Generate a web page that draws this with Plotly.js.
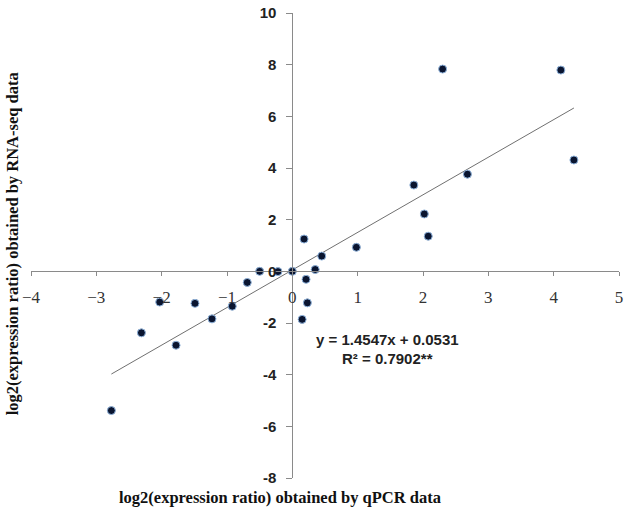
<!DOCTYPE html>
<html>
<head>
<meta charset="utf-8">
<script src="https://cdn.plot.ly/plotly-3.0.1.min.js"></script>
<style>html,body{margin:0;padding:0;background:#fff;}#chart{width:630px;height:513px;}</style>
</head>
<body>
<div id="chart"></div>
<script>
// qPCR log2 ratio (x) vs RNA-seq log2 ratio (y)
const qpcr = [2.30, 4.11, 4.31, 2.68, 1.86, 2.02, 2.08, 0.98, 0.18, 0.45,
              0.35, 0.21, 0.23, 0.15, -0.50, -0.22, 0.00, -0.69, -2.03, -1.49,
              -0.92, -1.23, -2.31, -1.78, -2.77];
const rnaseq = [7.83, 7.79, 4.31, 3.76, 3.34, 2.22, 1.36, 0.93, 1.25, 0.59,
                0.07, -0.31, -1.22, -1.86, 0.00, -0.01, 0.00, -0.43, -1.19, -1.24,
                -1.35, -1.84, -2.38, -2.86, -5.39];
const slope = 1.4547;
const intercept = 0.0531;
const equationText = "y = 1.4547x + 0.0531";
const r2Text = "R² = 0.7902**";
const xTickVals = [-4, -3, -2, -1, 0, 1, 2, 3, 4, 5];
const xTickText = ["\u22124", "\u22123", "\u22122", "\u22121", "0", "1", "2", "3", "4", "5"];
const yTickVals = [-8, -6, -4, -2, 0, 2, 4, 6, 8, 10];
const yTickText = ["-8", "-6", "-4", "-2", "0", "2", "4", "6", "8", "10"];
const xTitle = "log2(expression ratio) obtained by qPCR data";
const yTitle = "log2(expression ratio) obtained by RNA-seq data";

const xMin = Math.min(...qpcr), xMax = Math.max(...qpcr);
const fitX = [xMin, xMax];
const fitY = fitX.map(v => slope * v + intercept);

const sansB = 'Liberation Sans, Arial, sans-serif';
const traces = [
  {x: fitX, y: fitY, mode: 'lines', type: 'scatter',
   line: {color: '#707070', width: 1}, hoverinfo: 'skip'},
  {x: qpcr, y: rnaseq, mode: 'markers', type: 'scatter',
   marker: {size: 8, color: '#0a1530', line: {color: '#8fb3dc', width: 1}}}
];

const layout = {
  width: 630, height: 513,
  margin: {l: 31, r: 11, t: 13, b: 35},
  paper_bgcolor: '#fff', plot_bgcolor: '#fff',
  showlegend: false,
  xaxis: {
    range: [-4, 5], anchor: 'free', position: 8/18,
    showgrid: false, zeroline: false,
    showline: true, linecolor: '#8a8a8a', linewidth: 1,
    ticks: 'outside', ticklen: 4, tickcolor: '#8a8a8a', tickwidth: 1,
    tickvals: xTickVals, ticktext: xTickText,
    ticklabelstandoff: 6,
    tickfont: {family: 'Liberation Serif, serif', size: 17, color: '#333'}
  },
  yaxis: {
    range: [-8, 10], anchor: 'free', position: 4/9,
    showgrid: false, zeroline: false,
    showline: true, linecolor: '#8a8a8a', linewidth: 1,
    ticks: 'outside', ticklen: 6, tickcolor: '#8a8a8a', tickwidth: 1,
    tickvals: yTickVals, ticktext: yTickText.map(t => '<b>' + t + '</b>'),
    ticklabelstandoff: 7,
    tickfont: {family: sansB, size: 15, color: '#222'}
  },
  annotations: [
    {text: '<b>' + equationText + '</b>', xref: 'x', yref: 'y', x: 1.45, y: -2.62, showarrow: false,
     xanchor: 'center', yanchor: 'middle',
     font: {family: sansB, size: 15, color: '#222'}},
    {text: '<b>' + r2Text + '</b>', xref: 'x', yref: 'y', x: 1.45, y: -3.36, showarrow: false,
     xanchor: 'center', yanchor: 'middle',
     font: {family: sansB, size: 15, color: '#222'}},
    {text: '<b>' + xTitle + '</b>', xref: 'paper', yref: 'paper', x: 0.4235, y: -0.041,
     showarrow: false, xanchor: 'center', yanchor: 'middle',
     font: {family: 'Liberation Serif, serif', size: 16.5, color: '#111'}},
    {text: '<b>' + yTitle + '</b>', xref: 'paper', yref: 'paper', x: -0.032, y: 0.503,
     showarrow: false, xanchor: 'center', yanchor: 'middle', textangle: -90,
     font: {family: 'Liberation Serif, serif', size: 16.5, color: '#111'}}
  ]
};

Plotly.newPlot('chart', traces, layout, {displayModeBar: false, staticPlot: true});
</script>
</body>
</html>
